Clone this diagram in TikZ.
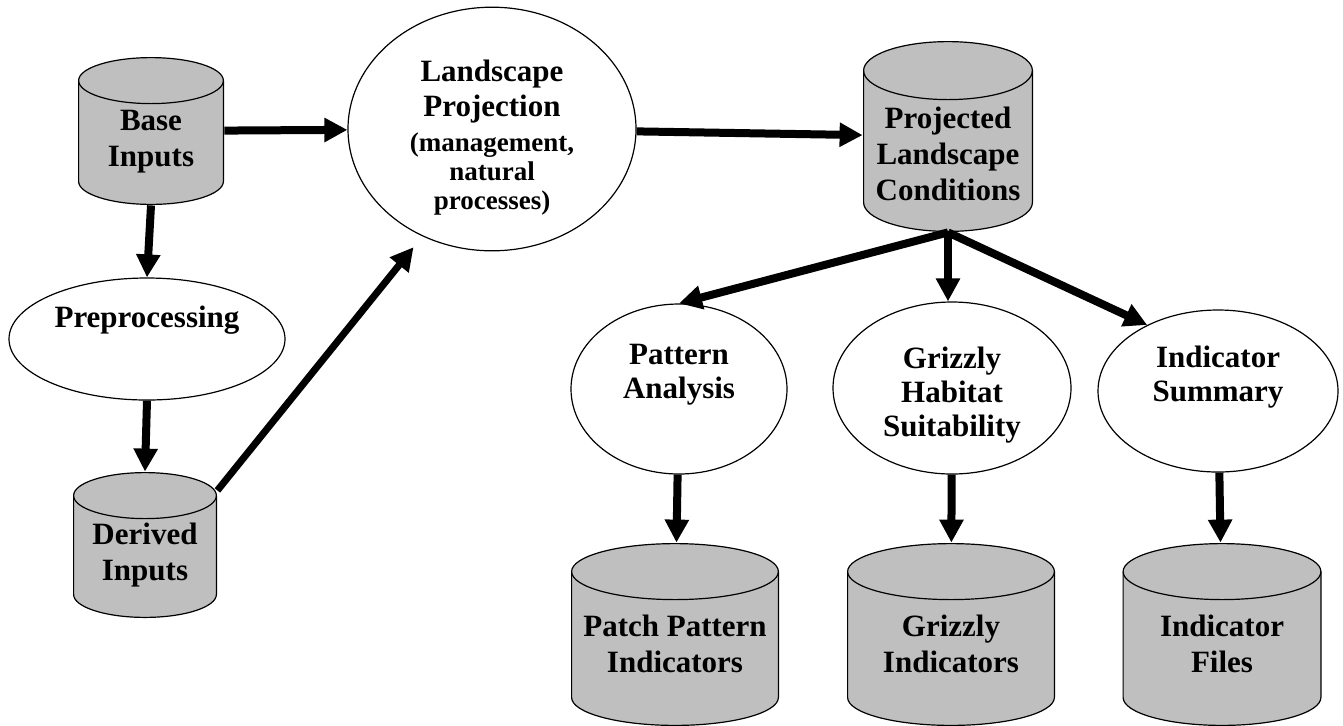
\documentclass[tikz,border=0pt]{standalone}
\usepackage{fontspec}
\setmainfont{Liberation Serif}
\usetikzlibrary{shapes.geometric,arrows.meta}

\begin{document}
\begin{tikzpicture}[x=0.5pt,y=-0.5pt,
  every node/.style={font=\fontsize{15.5}{18}\selectfont\bfseries,align=center,inner sep=0pt},
  store/.style n args={3}{minimum width=#1,minimum height=#2,
    path picture={
      \draw [line width=0.6pt,fill=black!25]
        ([xshift=0.3pt,yshift=-#3-0.3pt]path picture bounding box.north west)
        -- ([xshift=0.3pt,yshift=#3+0.3pt]path picture bounding box.south west)
        arc [start angle=180,end angle=360,x radius=0.5*#1-0.3pt,y radius=#3]
        -- ([xshift=-0.3pt,yshift=-#3-0.3pt]path picture bounding box.north east)
        arc [start angle=0,end angle=180,x radius=0.5*#1-0.3pt,y radius=#3] -- cycle;
      \draw [line width=0.6pt]
        ([xshift=0.3pt,yshift=-#3-0.3pt]path picture bounding box.north west)
        arc [start angle=180,end angle=360,x radius=0.5*#1-0.3pt,y radius=#3];
    }},
  task/.style={ellipse,draw,line width=0.6pt,fill=white,font=\fontsize{15.5}{17}\selectfont\bfseries},
  flow/.style={line width=4pt,-{Triangle[length=11.5pt,width=11.5pt]}}]
  \useasboundingbox (0,0) rectangle (1343,725);

  % inputs
  \node [store={73pt}{74pt}{11.5pt}] (base) at (151,131) {\strut\\[-10pt]Base\\Inputs};
  \node [task,minimum width=138pt,minimum height=61pt] (pre) at (147,339) {Preprocessing\\\strut};
  \node [store={72pt}{73pt}{11.5pt}] (derived) at (145,545) {\strut\\[-10pt]Derived\\Inputs};

  % projection
  \node [task,minimum width=144pt,minimum height=121pt,font=\fontsize{13.5}{14.5}\selectfont\bfseries] (lp) at (492,129)
    {\strut\\[-7pt]\fontsize{15.5}{14.5}\selectfont Landscape\\[3pt]\fontsize{15.5}{14.5}\selectfont Projection\\[3pt](management,\\natural\\processes)};
  \node [store={85pt}{95.5pt}{14.5pt}] (plc) at (948,136.5) {\strut\\[-2pt]Projected\\Landscape\\Conditions};

  % analyses
  \node [task,minimum width=108pt,minimum height=85pt] (pattern) at (679,389) {Pattern\\Analysis\\[-4.5pt]\strut};
  \node [task,minimum width=119pt,minimum height=86pt] (griz) at (952,388) {\strut\\[-11pt]Grizzly\\Habitat\\Suitability};
  \node [task,minimum width=120pt,minimum height=81pt] (summary) at (1218,391) {Indicator\\Summary\\[-4.5pt]\strut};

  % outputs
  \node [store={104pt}{91.5pt}{14pt}] (patch) at (675,634.5) {\strut\\[-10pt]Patch Pattern\\Indicators};
  \node [store={104pt}{91.5pt}{14pt}] (grizind) at (951,634.5) {\strut\\[-10pt]Grizzly\\Indicators};
  \node [store={99.5pt}{91.5pt}{14pt}] (files) at (1222,634.5) {\strut\\[-10pt]Indicator\\Files};

  \draw [flow] (base) -- (lp);
  \draw [flow] (base.south) -- (pre.north);
  \draw [flow] (pre.south) -- (derived.north);
  \draw [flow,line width=3.5pt,shorten >=7pt] (derived.37) -- (lp.237);
  \draw [flow] (lp) -- (plc);
  \draw [flow] (plc.south) -- (pattern.north);
  \draw [flow] (plc.south) -- (plc.south |- griz.north);
  \draw [flow] (plc.south) -- (summary.137);
  \draw [flow] (pattern) -- (patch);
  \draw [flow] (griz) -- (grizind);
  \draw [flow] (summary) -- (files);
\end{tikzpicture}
\end{document}
